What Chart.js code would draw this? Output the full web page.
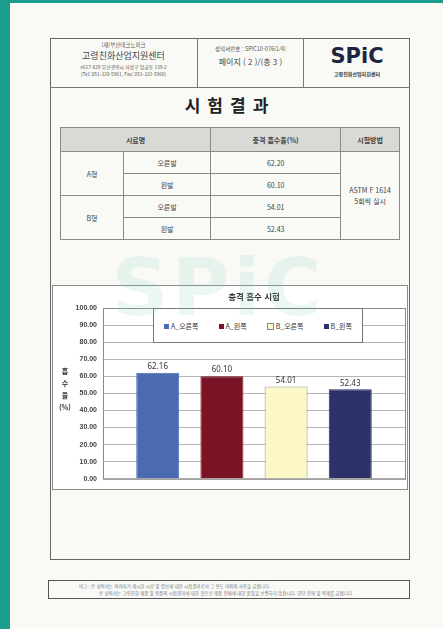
<!DOCTYPE html>
<html lang="ko">
<head>
<meta charset="utf-8">
<title>시험결과 - 충격 흡수 시험</title>
<script src="https://cdn.jsdelivr.net/npm/chart.js@4.4.1/dist/chart.umd.min.js"></script>
<style>
    html, body { margin: 0; padding: 0; }
    body {
        width: 443px; height: 629px; overflow: hidden; position: relative;
        background: #1c9d8c;
        font-family: "Noto Sans CJK KR", "Noto Sans", sans-serif;
        color: #333;
    }
    .paper { position: absolute; left: 10px; top: 3px; width: 433px; height: 626px; background: #f9f9f6; }
    .abs { position: absolute; }
    .frame { left: 50px; top: 38px; width: 358px; height: 520px; border: 1.5px solid #666; }
    .hline { height: 0; border-top: 1.5px solid #777; }
    .vline { width: 0; border-left: 1.5px solid #777; }
    .c { text-align: center; white-space: nowrap; }
    .title { left: 50px; width: 360px; top: 92px; font-size: 17px; font-weight: bold; letter-spacing: 7px; color: #222; }
    table.res {
        position: absolute; left: 60px; top: 127px; width: 340px; border-collapse: collapse;
        font-size: 7px; color: #444;
    }
    table.res td { border: 1px solid #8a8a8a; text-align: center; height: 21px; padding: 0; }
    table.res tr.hd td { background: #d9d9d6; font-weight: bold; height: 23px; }
    .chartbox { left: 52px; top: 285px; width: 354px; height: 203px; border: 1px solid #8c8c8c; background: #fff; }
    .ctitle { left: 53px; width: 402px; top: 290px; font-size: 8.5px; font-weight: bold; color: #333; }
    .legend {
        left: 153px; top: 308px; width: 208px; height: 33px; border: 1px solid #777; background: #fff;
        display: flex; align-items: center; justify-content: space-around; font-size: 7px; color: #333;
    }
    .legend span.sw { display: inline-block; width: 5px; height: 5px; margin-right: 2px; vertical-align: middle; }
    .ytitle { left: 58px; top: 365px; width: 14px; text-align: center; font-size: 7px; line-height: 12px; font-weight: bold; color: #333; }
    .wm { left: 112px; top: 243px; font-family: "DejaVu Sans", sans-serif; font-size: 78px; font-weight: bold; color: rgba(120, 200, 180, 0.15); letter-spacing: 4px; pointer-events: none; }
    .foot { left: 48px; top: 580px; width: 360px; height: 17px; border: 1.5px solid #555; font-size: 4.5px; color: #777; }
</style>
</head>
<body>
<div class="paper"></div>

<div class="abs frame"></div>
<div class="abs hline" style="left:50px; top:87px; width:360px;"></div>
<div class="abs vline" style="left:197px; top:38px; height:50px;"></div>
<div class="abs vline" style="left:303px; top:38px; height:50px;"></div>

<!-- header cells -->
<div class="abs c" style="left:50px; width:147px; top:41px; font-size:5.5px; color:#555;">(재)부산테크노파크</div>
<div class="abs c" style="left:50px; width:147px; top:49px; font-size:9px; color:#444;">고령친화산업지원센터</div>
<div class="abs c" style="left:50px; width:147px; top:63px; font-size:4.8px; color:#555;">#617-829 부산광역시 사상구 엄궁동 139-2</div>
<div class="abs c" style="left:50px; width:147px; top:70px; font-size:4.8px; color:#555;">(Tel: 051-320-5961, Fax: 051-322-5960)</div>
<div class="abs c" style="left:198px; width:105px; top:45px; font-size:5.5px; color:#555;">성적서번호 : SPIC10-076(1/4)</div>
<div class="abs c" style="left:198px; width:105px; top:56px; font-size:8px; color:#444;">페이지 ( 2 )/(총 3 )</div>
<div class="abs c" style="left:304px; width:106px; top:44px; font-family:'DejaVu Sans',sans-serif; font-size:21px; font-weight:bold; color:#1d2540;">SPiC</div>
<div class="abs c" style="left:304px; width:106px; top:70px; font-size:5px; font-weight:bold; color:#333;">고령친화산업지원센터</div>

<div class="abs c title">시험결과</div>

<table class="res" id="resTable"></table>

<div class="abs chartbox">
    <canvas id="impactChart" width="354" height="203"></canvas>
</div>
<div class="abs c ctitle"></div>
<div class="abs legend" id="legendBox"></div>
<div class="abs ytitle" id="yTitle"></div>
<div class="abs wm">SPiC</div>

<div class="abs foot">
    <div style="position:absolute; left:30px; top:2px;">비고 : 본 성적서는 의뢰자가 제시한 시료 및 정보에 대한 시험결과로서 그 용도 이외의 사용을 금합니다.</div>
    <div style="position:absolute; left:50px; top:9px;">본 성적서는 고령친화 제품 및 용품의 시험결과에 대한 것으로 제품 전체에 대한 품질을 보증하지 않습니다. 무단 전재 및 복제를 금합니다.</div>
</div>

<script>
// ---- data ----
const chartTitle = '충격 흡수 시험';
const yTitleParts = ['흡', '수', '율', '(%)'];
const seriesNames = ['A_오른쪽', 'A_왼쪽', 'B_오른쪽', 'B_왼쪽'];
const seriesValues = [62.16, 60.10, 54.01, 52.43];
const yMin = 0, yMax = 100, yStep = 10;

// result table
const sampleTypes = ['A형', 'B형'];
const sampleSides = ['오른발', '왼발'];
const tableValues = [62.20, 60.10, 54.01, 52.43];
const tableHeads = ['시료명', '충격 흡수율(%)', '시험방법'];
const testMethod = ['ASTM F 1614', '5회씩 실시'];

// styles
const barColors = ['#4a6bb0', '#7a1424', '#fbf7c6', '#2e3068'];
const barBorders = ['#4a6bb0', '#7a1424', '#9a9a8a', '#2e3068'];

// ---- table ----
(function () {
    const t = document.getElementById('resTable');
    let html = '<tr class="hd"><td colspan="2" style="width:125px">' + tableHeads[0] + '</td><td style="width:129px">' +
        tableHeads[1] + '</td><td>' + tableHeads[2] + '</td></tr>';
    sampleTypes.forEach((type, i) => {
        sampleSides.forEach((side, j) => {
            const v = tableValues[i * sampleSides.length + j].toFixed(2);
            html += '<tr>';
            if (j === 0) html += '<td rowspan="2" style="width:62px">' + type + '</td>';
            html += '<td>' + side + '</td><td>' + v + '</td>';
            if (i === 0 && j === 0) html += '<td rowspan="4" style="line-height:11px">' + testMethod.join('<br>') + '</td>';
            html += '</tr>';
        });
    });
    t.innerHTML = html;
})();

document.querySelector('.ctitle').textContent = chartTitle;
// stacked (upright) axis title, one glyph per line
document.getElementById('yTitle').innerHTML = yTitleParts.join('<br>');

// ---- legend ----
document.getElementById('legendBox').innerHTML = seriesNames.map((n, i) =>
    '<div><span class="sw" style="background:' + barColors[i] + ';border:' +
    (i === 2 ? '1px solid #888' : 'none') + '"></span>' + n + '</div>').join('');

// ---- chart ----
const plotFrame = {
    id: 'plotFrame',
    afterDatasetsDraw(chart) {
        const { ctx, chartArea: a } = chart;
        ctx.save();
        ctx.strokeStyle = '#8a8a8a';
        ctx.lineWidth = 1;
        ctx.strokeRect(a.left + 0.5, a.top + 0.5, a.right - a.left, a.bottom - a.top);
        ctx.restore();
    },
};

const valueLabels = {
    id: 'valueLabels',
    afterDatasetsDraw(chart) {
        const { ctx } = chart;
        ctx.save();
        ctx.font = '8px "Noto Sans", sans-serif';
        ctx.fillStyle = '#333';
        ctx.textAlign = 'center';
        ctx.textBaseline = 'bottom';
        chart.data.datasets.forEach((ds, i) => {
            const bar = chart.getDatasetMeta(i).data[0];
            ctx.fillText(ds.data[0].toFixed(2), bar.x, bar.y - 2);
        });
        ctx.restore();
    },
};

new Chart(document.getElementById('impactChart'), {
    type: 'bar',
    data: {
        labels: [''],
        datasets: seriesNames.map((name, i) => ({
            label: name,
            data: [seriesValues[i]],
            backgroundColor: barColors[i],
            borderColor: barBorders[i],
            borderWidth: 1,
            categoryPercentage: 0.85,
            barPercentage: 0.67,
        })),
    },
    options: {
        responsive: false,
        animation: false,
        layout: { padding: { left: 0, right: 2, top: 22, bottom: 4 } },
        plugins: {
            legend: { display: false },
            tooltip: { enabled: false },
        },
        scales: {
            x: { display: false },
            y: {
                min: yMin,
                max: yMax,
                afterFit: s => { s.width = 50; },
                ticks: {
                    stepSize: yStep,
                    padding: 6,
                    color: '#444',
                    font: { size: 7, weight: 'bold', family: '"Liberation Sans", sans-serif' },
                    callback: v => v.toFixed(2),
                },
                grid: { color: '#b5b5b5', drawTicks: false },
                border: { display: false },
            },
        },
    },
    plugins: [plotFrame, valueLabels],
});
</script>
</body>
</html>
